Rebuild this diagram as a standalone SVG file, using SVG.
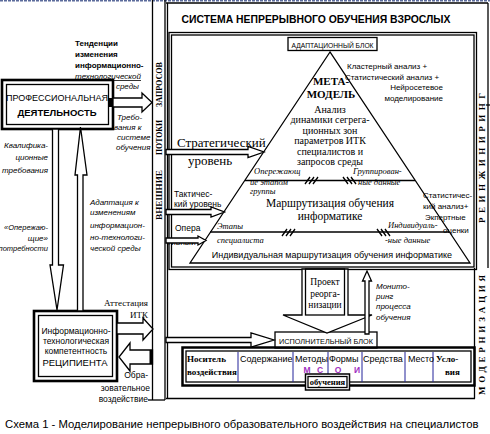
<svg xmlns="http://www.w3.org/2000/svg" width="490" height="434" viewBox="0 0 490 434">
<style>
.ln{fill:none;stroke:#000;stroke-width:1.3}
.th{fill:none;stroke:#000;stroke-width:2.6}
.ar{fill:#fff;stroke:#000;stroke-width:1.3;stroke-linejoin:miter}
.s{font-family:"Liberation Sans",Arial,sans-serif;fill:#000}
.r{font-family:"Liberation Serif","Times New Roman",serif;fill:#000}
.i{font-style:italic}
.b{font-weight:bold}
.m{text-anchor:middle}
.e{text-anchor:end}
.col{stroke:#22229a;stroke-width:1}
</style>
<rect x="0" y="0" width="490" height="434" fill="#fff"/>
<line x1="0" y1="0.8" x2="490" y2="0.8" stroke="#5b6b9b" stroke-width="1.5" stroke-dasharray="3 1"/>

<!-- band -->
<g id="band">
<line class="ln" x1="152.5" y1="0" x2="152.5" y2="400"/>
<line class="ln" x1="165" y1="0" x2="165" y2="400"/>
<line class="ln" x1="148" y1="400" x2="165" y2="400"/>
<text class="r b" font-size="8" transform="translate(161.5,195) rotate(-90)" text-anchor="middle" textLength="50" lengthAdjust="spacingAndGlyphs">ВНЕШНИЕ</text>
<text class="r b" font-size="8" transform="translate(161.5,137.5) rotate(-90)" text-anchor="middle" textLength="35" lengthAdjust="spacingAndGlyphs">ПОТОКИ</text>
<text class="r b" font-size="8" transform="translate(161.5,84.5) rotate(-90)" text-anchor="middle" textLength="45" lengthAdjust="spacingAndGlyphs">ЗАПРОСОВ</text>
</g>

<!-- system frame -->
<g id="system">
<line class="ln" x1="167.5" y1="3" x2="167.5" y2="398"/>
<line class="ln" x1="166" y1="3" x2="488" y2="3"/>
<line class="ln" x1="488" y1="3" x2="488" y2="268"/>
<line class="ln" x1="166" y1="398.5" x2="475" y2="398.5"/>
<line class="ln" x1="474.5" y1="268" x2="474.5" y2="398.5"/>
<line class="ln" x1="486" y1="105" x2="490" y2="105"/>
<text class="s b m" font-size="10.4" x="316" y="22.5">СИСТЕМА НЕПРЕРЫВНОГО ОБУЧЕНИЯ ВЗРОСЛЫХ</text>
<text class="r b" font-size="9" transform="translate(484.5,158) rotate(-90)" text-anchor="middle" textLength="130" lengthAdjust="spacing">РЕИНЖИНИРИНГ</text>
<text class="r b" font-size="9" transform="translate(484.5,335) rotate(-90)" text-anchor="middle" textLength="120" lengthAdjust="spacing">МОДЕРНИЗАЦИЯ</text>
</g>

<!-- adaptive block -->
<g id="adapt">
<rect class="ln" x="169" y="32.5" width="307.5" height="237"/>
<rect class="ln" x="171.5" y="35" width="302.5" height="232"/>
<rect class="ln" x="288" y="37.5" width="89" height="13" fill="#fff"/>
<text class="s m" font-size="8" x="332.5" y="47.5" textLength="82" lengthAdjust="spacingAndGlyphs">АДАПТАЦИОННЫЙ БЛОК</text>
<polygon class="ln" stroke-width="1.5" points="330,52 190,263 470,263"/>
<line class="ln" x1="245" y1="180.5" x2="415" y2="180.5"/>
<line class="ln" x1="210" y1="232" x2="449" y2="232"/>
<g class="ln" stroke-width="1.2">
<path d="M305,184 l5,-7 M309,184 l5,-7 M313,184 l5,-7"/>
<path d="M343,177 l5,7 M347,177 l5,7 M351,177 l5,7"/>
<path d="M282,236 l5,-7 M286,236 l5,-7 M290,236 l5,-7"/>
<path d="M377,229 l5,7 M381,229 l5,7 M385,229 l5,7"/>
</g>
<text class="r b m" font-size="11" x="331" y="85">МЕТА-</text>
<text class="r b m" font-size="11" x="331" y="98">МОДЕЛЬ</text>
<g class="r m" font-size="10">
<text x="330" y="113">Анализ</text>
<text x="330" y="123">динамики сегрега-</text>
<text x="330" y="134">ционных зон</text>
<text x="330" y="144">параметров ИТК</text>
<text x="330" y="155">специалистов и</text>
<text x="330" y="165">запросов среды</text>
</g>
<g class="r i" font-size="8.5">
<text x="254" y="174">Опережающ</text>
<text x="250" y="185">ие этапом</text>
<text x="250" y="194">группы</text>
<text x="353" y="174">Группирован-</text>
<text x="358" y="185">ные данные</text>
<text x="217" y="229">Этапы</text>
<text x="217" y="243">специалиста</text>
<text x="388" y="228">Индивидуаль-</text>
<text x="385" y="243">-ные данные</text>
</g>
<text class="r m" font-size="11.5" x="330" y="207">Маршрутизация обучения</text>
<text class="r m" font-size="11.5" x="330" y="220">информатике</text>
<text class="s m" font-size="9" x="332" y="258">Индивидуальная маршрутизация обучения информатике</text>
<g class="s" font-size="8">
<text x="347" y="69">Кластерный анализ +</text>
<text x="345" y="80">Статистический анализ +</text>
<text class="e" x="443" y="90">Нейросетевое</text>
<text class="e" x="443" y="101">моделирование</text>
<text x="423" y="198">Статистичес-</text>
<text x="423" y="209">кий анализ+</text>
<text x="425" y="220">Экпертные</text>
<text x="443" y="233">оценки</text>
</g>
<text class="r" font-size="13" x="177" y="147">Стратегический</text>
<text class="r" font-size="13" x="188" y="165">уровень</text>
<g class="s" font-size="8.5">
<text x="174" y="197">Тактичес-</text>
<text x="174" y="207">кий уровень</text>
<text x="175" y="231">Опера</text>
<text x="167" y="245">тивный</text>
</g>
</g>

<!-- professional activity -->
<g id="prof">
<rect class="th" x="2" y="80" width="111" height="49" fill="#fff"/>
<rect class="ln" x="6.5" y="84.5" width="102" height="40"/>
<text class="s m" font-size="9" x="57" y="101">ПРОФЕССИОНАЛЬНАЯ</text>
<text class="s b m" font-size="9.5" x="57" y="116">ДЕЯТЕЛЬНОСТЬ</text>
</g>

<!-- recipient -->
<g id="recipient">
<rect class="th" x="34" y="311" width="83" height="70" fill="#fff"/>
<rect class="ln" x="38.5" y="315.5" width="74" height="61"/>
<g class="s m" font-size="8.5">
<text x="76" y="334">Информационно-</text>
<text x="76" y="344">технологическая</text>
<text x="76" y="354">компетентность</text>
</g>
<text class="s m" font-size="9.5" x="75" y="366">РЕЦИПИЕНТА</text>
</g>

<!-- lower blocks -->
<g id="exec">
<rect class="ln" x="275" y="332" width="102" height="16" fill="#fff"/>
<text class="s m" font-size="8" x="326" y="344" textLength="94" lengthAdjust="spacingAndGlyphs">ИСПОЛНИТЕЛЬНЫЙ БЛОК</text>
</g>
<g id="table">
<rect x="182.5" y="347.5" width="292" height="38" fill="none" stroke="#000" stroke-width="2.5"/>
<rect class="ln" x="186" y="351" width="285" height="31" stroke-width="1"/>
<g class="col">
<line x1="238" y1="352" x2="238" y2="382"/>
<line x1="293" y1="352" x2="293" y2="382"/>
<line x1="328" y1="352" x2="328" y2="382"/>
<line x1="362" y1="352" x2="362" y2="382"/>
<line x1="405" y1="352" x2="405" y2="382"/>
<line x1="433" y1="352" x2="433" y2="382"/>
</g>
<text class="r b" font-size="9" x="187" y="362">Носитель</text>
<text class="r b" font-size="9" x="187" y="375">воздействия</text>
<g class="s" font-size="9">
<text x="240" y="361.5">Содержание</text>
<text x="295" y="361.5">Методы</text>
<text x="329" y="361.5">Формы</text>
<text x="363" y="361.5">Средства</text>
<text x="408" y="361.5">Место</text>
</g>
<text class="r b" font-size="9" x="436" y="362">Усло-</text>
<text class="r b" font-size="9" x="445" y="375">вия</text>
<g class="s b m" font-size="8.5" style="fill:#a030c0">
<text x="307" y="372.5">М</text>
<text x="320" y="372.5">С</text>
<text x="338" y="372.5">О</text>
<text x="357" y="372.5">И</text>
</g>
<rect x="305.5" y="374" width="44" height="16" fill="#fff" stroke="#000" stroke-width="1.5"/>
<rect class="ln" x="308" y="376.5" width="39" height="11" stroke-width="1"/>
<text class="r b m" font-size="8.5" x="327.5" y="385">обучения</text>
</g>
<g id="project">
<polygon class="ar" stroke-width="1.5" points="302,269 302,315 283,315 327,333 372,315 348,315 348,269"/>
<rect class="ln" x="305.5" y="269" width="39" height="46" stroke-width="1.5"/>
<g class="r m" font-size="9.5">
<text x="325" y="285">Проект</text>
<text x="325" y="297">реорга-</text>
<text x="325" y="308">низации</text>
</g>
</g>

<!-- connectors -->
<g id="connectors">
<polygon class="ar" points="113,98 142,98 142,93 152,102.5 142,112 142,107 113,107"/>
<rect x="108" y="98" width="5" height="9" fill="#000"/>
<polygon class="ar" points="52.5,129 52.5,265 50,265 57,310 63.5,265 58.5,265 58.5,129"/>
<polygon class="ar" points="77.5,311 77.5,175 75,175 80.5,127 87,175 83,175 83,311"/>
<polygon class="ar" points="117,323 143,323 143,318 153,329 143,340 143,334 117,334"/>
<polygon class="ar" points="152.5,350 130,350 130,343 119,357 130,371 130,364 152.5,364"/>
<rect x="149.5" y="350" width="3" height="14" fill="#000"/>
<polygon class="ar" points="166,149.5 248,149.5 248,146.5 264,152 248,157.5 248,154.5 166,154.5"/>
<polygon class="ar" points="166,209.5 211,209.5 211,207 224.5,212 211,217 211,214.5 166,214.5"/>
<polygon class="ar" points="166,238 198,238 198,236 206,240.5 198,245 198,243 166,243"/>
<polygon class="ar" points="166,337.5 251,337.5 251,333 274,340 251,347 251,342.5 166,342.5"/>
<polygon class="ar" points="365,334 365,281 362.5,281 367,271 371.5,281 369,281 369,334"/>
</g>

<!-- free texts -->
<g id="labels">
<g class="s b" font-size="8">
<text x="75" y="46">Тенденции</text>
<text x="75" y="57">изменения</text>
<text x="75" y="68">информационно-</text>
</g>
<g class="s i" font-size="8">
<text x="75" y="79" text-decoration="underline">технологической</text>
<text class="e" x="139" y="89">среды</text>
<text x="117" y="120">Требо-</text>
<text x="114" y="130">вания к</text>
<text x="117" y="140">системе</text>
<text x="116" y="150">обучения</text>
<text class="e" x="48" y="148">Квалифика-</text>
<text class="e" x="48" y="160">ционные</text>
<text class="e" x="48" y="173">требования</text>
<text class="e" x="48" y="230" font-size="7.5">«Опережаю-</text>
<text class="e" x="48" y="241">щие»</text>
<text class="e" x="48" y="251" font-size="7.5">потребности</text>
<text x="90" y="205">Адаптация к</text>
<text x="90" y="215">изменениям</text>
<text x="90" y="228">информацион-</text>
<text x="90" y="240">но-технологи-</text>
<text x="90" y="251">ческой среды</text>
<text x="376" y="289">Монито-</text>
<text x="376" y="299">ринг</text>
<text x="376" y="309">процесса</text>
<text x="376" y="320">обучения</text>
</g>
<text class="r" font-size="9" x="148" y="306" text-anchor="end">Аттестация</text>
<text class="r" font-size="9" x="148" y="318" text-anchor="end">ИТК</text>
<g class="s e" font-size="8.5">
<text x="148" y="378">Обра-</text>
<text x="150" y="391">зовательное</text>
<text x="148" y="402">воздействие</text>
</g>
<text class="s" font-size="11.3" x="5" y="428">Схема 1 - Моделирование непрерывного образовательного воздействия на специалистов</text>
</g>
</svg>
